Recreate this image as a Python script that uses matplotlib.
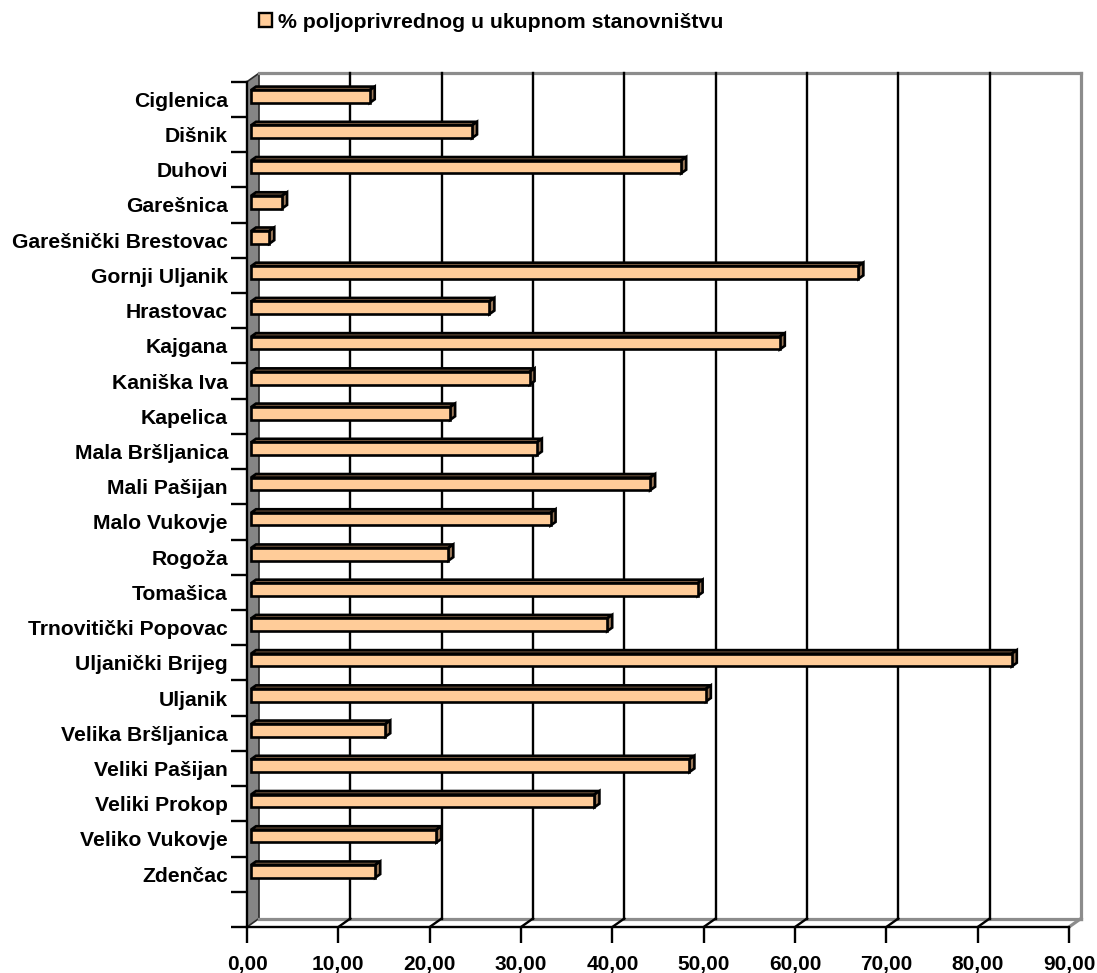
import matplotlib
matplotlib.use("Agg")
import matplotlib.pyplot as plt
from matplotlib.patches import Polygon, Patch
from matplotlib.ticker import FixedLocator

plt.rcParams["font.family"] = ["Liberation Sans", "DejaVu Sans"]
plt.rcParams["font.weight"] = "bold"

# --- data -----------------------------------------------------------------
categories = [
    "Ciglenica", "Dišnik", "Duhovi", "Garešnica", "Garešnički Brestovac",
    "Gornji Uljanik", "Hrastovac", "Kajgana", "Kaniška Iva", "Kapelica",
    "Mala Bršljanica", "Mali Pašijan", "Malo Vukovje", "Rogoža", "Tomašica",
    "Trnovitički Popovac", "Uljanički Brijeg", "Uljanik", "Velika Bršljanica",
    "Veliki Pašijan", "Veliki Prokop", "Veliko Vukovje", "Zdenčac",
]
values = [
    13.0, 24.2, 47.1, 3.4, 2.0,
    66.5, 26.1, 57.9, 30.5, 21.8,
    31.3, 43.7, 32.8, 21.6, 48.9,
    39.0, 83.3, 49.8, 14.7,
    48.0, 37.6, 20.3, 13.6,
]
x_ticks = [0, 10, 20, 30, 40, 50, 60, 70, 80, 90]
series_label = "% poljoprivrednog u ukupnom stanovništvu"

# --- styling --------------------------------------------------------------
FRONT = "#FFCC99"
TOP = "#7d5e44"
SIDE = "#9a7859"
WALL = "#858585"
FRAME = "#8c8c8c"

W, H = 1097, 973
fig = plt.figure(figsize=(W / 100, H / 100), dpi=100)
ax = fig.add_axes([247 / W, (H - 927) / H, (1069 - 247) / W, (927 - 81.7) / H])

n_slots = len(categories) + 1          # one empty slot below the last bar
ymin, ymax = -0.5, n_slots - 0.5
ax.set_xlim(x_ticks[0], x_ticks[-1])
ax.set_ylim(ymin, ymax)

# depth vector of the 3-D box, converted from pixels to data units
px_per_x = (1069 - 247) / (x_ticks[-1] - x_ticks[0])
px_per_y = (927 - 81.7) / n_slots
DX = 12.0 / px_per_x
DY = 8.5 / px_per_y
xmax = x_ticks[-1]

# left side wall
ax.add_patch(Polygon([(0, ymin), (DX, ymin + DY), (DX, ymax + DY), (0, ymax)],
                     closed=True, facecolor=WALL, edgecolor="#2a2a2a",
                     lw=1.2, clip_on=False, zorder=1))

# back wall frame and floor back edge
frame_kw = dict(color=FRAME, lw=2.3, clip_on=False, zorder=1.5,
                solid_capstyle="projecting")
ax.plot([DX, xmax + DX], [ymax + DY, ymax + DY], **frame_kw)
ax.plot([xmax + DX, xmax + DX], [ymin + DY, ymax + DY], **frame_kw)
ax.plot([DX, xmax + DX], [ymin + DY, ymin + DY], **frame_kw)
ax.plot([xmax, xmax + DX], [ymin, ymin + DY], **frame_kw)

# vertical gridlines on the back wall and their floor diagonals
for v in x_ticks[1:-1]:
    ax.plot([v + DX, v + DX], [ymin + DY, ymax + DY], color="black", lw=1.7,
            clip_on=False, zorder=2)
    ax.plot([v, v + DX], [ymin, ymin + DY], color="black", lw=1.7,
            clip_on=False, zorder=2)

# 3-D bars
f0, f1 = 0.33, 0.75
bar_h = 0.36
for i, v in enumerate(values):
    yc = n_slots - 1 - i
    x0 = f0 * DX
    y0 = yc - bar_h / 2 + f0 * DY
    y1 = yc + bar_h / 2 + f0 * DY
    ddx = (f1 - f0) * DX
    ddy = (f1 - f0) * DY
    kw = dict(closed=True, edgecolor="black", lw=1.9, joinstyle="miter",
              clip_on=False, zorder=3)
    ax.add_patch(Polygon([(x0, y1), (x0 + v, y1), (x0 + v + ddx, y1 + ddy),
                          (x0 + ddx, y1 + ddy)], facecolor=TOP, **kw))
    ax.add_patch(Polygon([(x0 + v, y0), (x0 + v, y1), (x0 + v + ddx, y1 + ddy),
                          (x0 + v + ddx, y0 + ddy)], facecolor=SIDE, **kw))
    ax.add_patch(Polygon([(x0, y0), (x0 + v, y0), (x0 + v, y1), (x0, y1)],
                         facecolor=FRONT, **kw))

# axes, ticks and labels
for s in ("top", "right"):
    ax.spines[s].set_visible(False)
for s in ("left", "bottom"):
    ax.spines[s].set_linewidth(1.7)
    ax.spines[s].set_color("black")
    ax.spines[s].set_zorder(4)

ax.set_xticks(x_ticks)
ax.set_xticklabels([f"{t:.2f}".replace(".", ",") for t in x_ticks],
                   fontsize=15, fontweight="bold")
ax.tick_params(axis="x", which="major", length=11.5, width=1.7,
               direction="out", pad=8.5)

ax.yaxis.set_major_locator(FixedLocator([k + 0.5 for k in range(-1, n_slots)]))
ax.yaxis.set_minor_locator(FixedLocator([n_slots - 1 - i for i in range(len(categories))]))
ax.set_yticklabels([], minor=False)
ax.set_yticklabels(categories, minor=True, fontsize=15.2, fontweight="bold")
ax.tick_params(axis="y", which="major", length=11.5, width=1.7, direction="out")
ax.tick_params(axis="y", which="minor", length=0, pad=13.7)

# legend
fig.legend(handles=[Patch(facecolor=FRONT, edgecolor="black", lw=1.7,
                          label=series_label)],
           loc="center left", bbox_to_anchor=(259 / W, 1 - 22 / H),
           frameon=False, borderpad=0, borderaxespad=0,
           handlelength=0.6, handleheight=0.6, handletextpad=0.3,
           prop=dict(size=15.3, weight="bold"))

fig.savefig("out.png", dpi=100)
